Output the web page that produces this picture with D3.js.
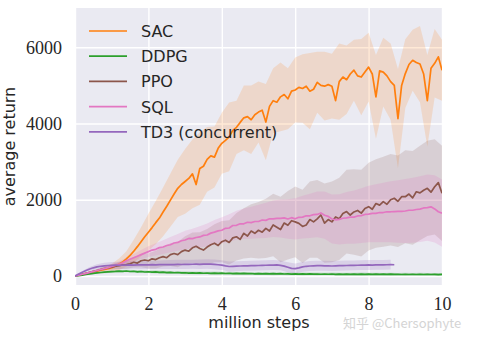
<!DOCTYPE html>
<html><head><meta charset="utf-8">
<script src="https://cdn.jsdelivr.net/npm/d3@7"></script>
<style>html,body{margin:0;padding:0;background:#fff;} svg{display:block}
.tick text{font-family:"Liberation Serif","DejaVu Serif",serif !important;}
</style>
</head><body>
<svg id="chart" width="486" height="341"></svg>
<script>
// ---- data ----
const steps = [0,0.1,0.2,0.3,0.4,0.5,0.6,0.7,0.8,0.9,
1,1.1,1.2,1.3,1.4,1.5,1.6,1.7,1.8,1.9,
2,2.1,2.2,2.3,2.4,2.5,2.6,2.7,2.8,2.9,
3,3.1,3.2,3.3,3.4,3.5,3.6,3.7,3.8,3.9,
4,4.1,4.2,4.3,4.4,4.5,4.6,4.7,4.8,4.9,
5,5.1,5.2,5.3,5.4,5.5,5.6,5.7,5.8,5.9,
6,6.1,6.2,6.3,6.4,6.5,6.6,6.7,6.8,6.9,
7,7.1,7.2,7.3,7.4,7.5,7.6,7.7,7.8,7.9,
8,8.1,8.2,8.3,8.4,8.5,8.6,8.7,8.8,8.9,
9,9.1,9.2,9.3,9.4,9.5,9.6,9.7,9.8,9.9,
10];

const sacReturn = [0,20,45,70,90,110,130,150,170,195,
220,260,310,370,450,540,650,770,900,1030,
1150,1270,1400,1520,1680,1830,1990,2150,2300,2400,
2480,2560,2680,2400,2820,2880,3060,3150,3120,3350,
3480,3560,3650,3820,3900,4030,4150,4180,4100,4230,
4300,4350,4040,4450,4600,4560,4700,4760,4650,4850,
4880,4950,4920,4980,4850,4900,5080,5000,4980,5020,
4980,4600,5100,5220,5150,5300,5400,5250,5220,5350,
5480,5300,4700,5380,5350,5250,5100,5000,4130,5000,
5310,5550,5660,5600,5560,5300,4600,5450,5580,5750,
5400];

const ddpgReturn = [0,10,25,40,55,70,80,92,100,108,
115,120,128,122,132,118,125,110,118,105,
112,100,108,95,102,90,96,85,92,80,
86,78,84,74,80,72,78,70,76,68,
74,66,72,64,70,62,68,60,66,58,
64,56,62,55,60,54,60,52,58,50,
56,50,55,48,54,48,53,46,52,46,
52,45,51,44,50,44,50,43,49,43,
48,42,48,42,47,41,47,41,46,40,
46,40,45,40,45,39,44,39,44,38,
42];

const ppoReturn = [0,20,45,70,95,120,145,170,195,215,
235,255,270,290,300,320,360,340,400,420,
400,450,430,480,510,480,560,590,560,640,
680,650,740,780,720,680,760,820,860,800,
900,940,880,1000,1030,960,1120,1050,1180,1120,
1200,1150,1250,1180,1340,1280,1220,1390,1330,1450,
1420,1380,1300,1340,1480,1420,1500,1600,1390,1480,
1420,1550,1500,1640,1690,1600,1680,1720,1650,1770,
1820,1750,1900,1860,1950,1880,2000,2040,1960,2080,
2080,2150,2050,2210,2180,2250,2300,2200,2340,2450,
2170];

const sqlReturn = [0,20,45,70,95,120,145,170,195,220,
250,280,310,350,400,440,480,520,560,600,
640,680,700,745,760,800,820,865,880,925,
945,985,980,1010,1025,1065,1075,1125,1150,1185,
1200,1250,1260,1325,1330,1370,1370,1410,1400,1430,
1430,1470,1460,1500,1500,1510,1510,1525,1495,1530,
1500,1540,1545,1580,1580,1610,1615,1655,1595,1565,
1495,1475,1485,1515,1525,1545,1545,1575,1585,1615,
1625,1645,1645,1665,1665,1685,1685,1690,1695,1695,
1705,1725,1725,1745,1755,1785,1795,1815,1760,1685,
1650];

const td3Return = [0,50,100,145,185,215,240,255,265,275,
280,285,282,288,285,290,288,292,290,295,
293,297,292,298,300,296,302,300,305,302,
306,303,308,310,306,312,315,310,305,295,
285,265,250,255,258,262,265,268,270,272,
275,280,282,285,288,290,280,260,230,200,
195,215,240,255,262,268,270,272,268,265,
262,265,270,272,275,278,280,282,285,288,
290,288,292,295,292,295,298,295];

// half-widths of the shaded bands, every 0.2 million steps
const sacSpread = [0,10,25,45,70,100,150,200,300,380,
480,570,640,700,750,850,900,950,850,800,
800,900,700,850,900,800,1000,850,900,800,
850,900,1000,800,900,850,1000,900,800,1000,
900,1100,900,1000,1300,900,800,1000,1200,900,
800];
const ddpgSpread = [0,8,15,20,25,30,30,35,35,38,
35,40,35,38,35,40,35,38,35,40,
35,38,35,40,35,38,35,40,35,38,
35,40,35,38,35,40,35,38,35,40,
35,38,35,40,35,38,35,40,35,38,
35];
const ppoSpread = [0,10,20,35,50,70,90,110,140,170,
200,230,260,300,330,360,400,430,470,500,
540,580,620,660,700,740,780,820,860,900,
930,960,1000,1020,1040,1060,1080,1100,1120,1140,
1150,1160,1180,1200,1200,1220,1230,1240,1250,1250,
1250];
const sqlSpread = [0,10,20,30,40,55,70,85,100,120,
140,160,180,200,220,240,260,280,300,320,
340,360,380,400,420,440,460,480,500,520,
540,560,580,600,620,640,660,680,700,720,
740,760,780,800,820,840,850,860,870,880,
880];
const td3Spread = [0,30,50,70,80,90,95,100,100,105,
110,110,115,115,120,120,120,125,125,125,
130,130,130,130,130,130,130,130,130,130,
130,130,130,130,130,130,130,130,130,130,
130,130,130,130];

const xTicks = [0,2,4,6,8,10];
const yTicks = [0,2000,4000,6000];
const seriesNames = ["SAC","DDPG","PPO","SQL","TD3 (concurrent)"];
const seriesColors = ["#ff7f0e","#2ca02c","#8c564b","#e377c2","#9467bd"];

// ---- chart ----
const svg = d3.select("#chart");
const L = 75, R = 442, T = 8, B = 285;
const x = d3.scaleLinear().domain([0,10]).range([L,R]);
const y = d3.scaleLinear().domain([-236,7031]).range([B,T]);

svg.append("rect").attr("x",L).attr("y",T).attr("width",R-L).attr("height",B-T).attr("fill","#eaeaf2");

svg.append("defs").append("clipPath").attr("id","clip")
  .append("rect").attr("x",L).attr("y",T).attr("width",R-L).attr("height",B-T);

// grid
const gx = svg.append("g").attr("transform",`translate(0,${B})`)
  .call(d3.axisBottom(x).tickValues(xTicks).tickSize(-(B-T)).tickFormat(""));
gx.select(".domain").remove();
gx.selectAll("line").attr("stroke","#fff").attr("stroke-width",1.4);
const gy = svg.append("g").attr("transform",`translate(${L},0)`)
  .call(d3.axisLeft(y).tickValues(yTicks).tickSize(-(R-L)).tickFormat(""));
gy.select(".domain").remove();
gy.selectAll("line").attr("stroke","#fff").attr("stroke-width",1.4);

// tick labels
const serif = '"Liberation Serif","DejaVu Serif",serif';
const ax = svg.append("g").attr("transform",`translate(0,${B})`)
  .call(d3.axisBottom(x).tickValues(xTicks).tickSize(0).tickPadding(12).tickFormat(d3.format("d")));
ax.attr("font-family", serif).attr("font-size", 18);
ax.select(".domain").remove();
ax.selectAll("text").style("font-family", serif).style("font-size","18px").attr("fill","#262626");
const ay = svg.append("g").attr("transform",`translate(${L},0)`)
  .call(d3.axisLeft(y).tickValues(yTicks).tickSize(0).tickPadding(13).tickFormat(d3.format("d")));
ay.attr("font-family", serif).attr("font-size", 18);
ay.select(".domain").remove();
ay.selectAll("text").style("font-family", serif).style("font-size","18px").attr("fill","#262626");

// axis titles
svg.append("text").attr("x",259).attr("y",328).attr("text-anchor","middle")
  .attr("font-family","'DejaVu Sans', sans-serif").attr("font-size",16).attr("fill","#262626")
  .text("million steps");
svg.append("text").attr("transform","translate(15,146.5) rotate(-90)").attr("text-anchor","middle")
  .attr("font-family","'DejaVu Sans', sans-serif").attr("font-size",16).attr("fill","#262626")
  .text("average return");

const series = [
  {vals: sacReturn, spread: sacSpread, op: 0.17},
  {vals: ddpgReturn, spread: ddpgSpread, op: 0.2},
  {vals: ppoReturn, spread: ppoSpread, op: 0.18},
  {vals: sqlReturn, spread: sqlSpread, op: 0.2},
  {vals: td3Return, spread: td3Spread, op: 0.2}
];

const plot = svg.append("g").attr("clip-path","url(#clip)");
const area = d3.area().x(d=>x(d.x)).y0(d=>y(d.lo)).y1(d=>y(d.hi));
const line = d3.line().x(d=>x(d.x)).y(d=>y(d.v));

series.forEach((s,k)=>{
  const band = s.spread.map((h,i)=>({x: steps[2*i], lo: s.vals[2*i]-h, hi: s.vals[2*i]+h}));
  plot.append("path").datum(band).attr("d",area)
    .attr("fill",seriesColors[k]).attr("fill-opacity",s.op).attr("stroke","none");
});
series.forEach((s,k)=>{
  const pts = s.vals.map((v,i)=>({x: steps[i], v}));
  plot.append("path").datum(pts).attr("d",line)
    .attr("fill","none").attr("stroke",seriesColors[k]).attr("stroke-width",1.7)
    .attr("stroke-linejoin","round");
});

// legend
const lg = svg.append("g");
seriesNames.forEach((name,k)=>{
  const yy = 31 + k*25.2;
  lg.append("line").attr("x1",89).attr("x2",127).attr("y1",yy).attr("y2",yy)
    .attr("stroke",seriesColors[k]).attr("stroke-width",1.7);
  lg.append("text").attr("x",141).attr("y",yy+6)
    .attr("font-family","'DejaVu Sans', sans-serif").attr("font-size",16).attr("fill","#262626")
    .text(name);
});

// watermark
svg.append("text").attr("x",343).attr("y",328)
  .attr("font-family","'Noto Sans CJK SC', sans-serif").attr("font-size",13)
  .attr("fill","#d4d4d4").text("知乎 @Chersophyte");
</script>
</body></html>
